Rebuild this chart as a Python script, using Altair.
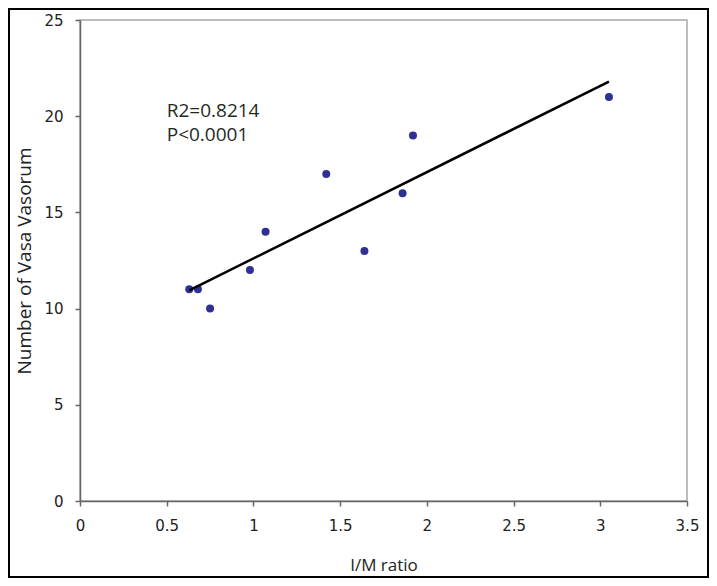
import altair as alt
import pandas as pd

im_ratio = [0.63, 0.68, 0.75, 0.98, 1.07, 1.42, 1.64, 1.86, 1.92, 3.05]
vasa = [11, 11, 10, 12, 14, 17, 13, 16, 19, 21]
x_ticks = [0, 0.5, 1, 1.5, 2, 2.5, 3, 3.5]
y_ticks = [0, 5, 10, 15, 20, 25]
ann_text = ["R2=0.8214", "P<0.0001"]
ann_x = [0.5, 0.5]
ann_y = [20.25, 19.0]

df = pd.DataFrame({"x": im_ratio, "y": vasa})
ann = pd.DataFrame({"t": ann_text, "x": ann_x, "y": ann_y})

W, H = 607, 481
xs = alt.Scale(domain=[0, 3.5], nice=False, zero=True)
ys = alt.Scale(domain=[0, 25], nice=False)

xaxis = alt.Axis(values=x_ticks, format="~g", grid=False, title="I/M ratio",
                 labelFont="DejaVu Sans", labelFontSize=15, labelColor="#222",
                 labelPadding=12, tickSize=5, tickColor="#666", domainColor="#666",
                 domainWidth=1.5, tickWidth=1.5, titleFont="Open Sans", titleFontSize=17,
                 titleFontWeight="normal", titleColor="#222", titleX=W / 2, titleY=64,
                 titleBaseline="middle", labelFlush=False)
yaxis = alt.Axis(values=y_ticks, format="~g", grid=False, title="Number of Vasa Vasorum",
                 labelFont="DejaVu Sans", labelFontSize=15, labelColor="#222",
                 labelPadding=12, tickSize=5, tickColor="#666", domainColor="#666",
                 domainWidth=1.5, tickWidth=1.5, titleFont="Open Sans", titleFontSize=19,
                 titleFontWeight="normal", titleColor="#222", titleX=-56, titleY=H / 2,
                 titleBaseline="middle", titleAlign="center", labelFlush=False)

base = alt.Chart(df)
pts = base.mark_circle(size=64, color="#2e3192", opacity=1).encode(
    x=alt.X("x:Q", scale=xs, axis=xaxis),
    y=alt.Y("y:Q", scale=ys, axis=yaxis),
)
line = base.transform_regression("x", "y").mark_line(color="black", strokeWidth=2.5).encode(
    x=alt.X("x:Q", scale=xs), y=alt.Y("y:Q", scale=ys)
)
text = alt.Chart(ann).mark_text(align="left", baseline="middle", font="Open Sans",
                                fontSize=19, color="#1f2a1f").encode(
    x=alt.X("x:Q", scale=xs), y=alt.Y("y:Q", scale=ys), text="t:N"
)
frame = alt.Chart(ann).mark_rect(fill=None, stroke="black", strokeWidth=2).encode(
    x=alt.value(-71), x2=alt.value(W + 21), y=alt.value(-11), y2=alt.value(H + 76)
)

chart = alt.layer(pts, line, text, frame).properties(
    width=W, height=H,
    autosize=alt.AutoSizeParams(type="none"),
    padding={"left": 72, "top": 12, "right": 22, "bottom": 77},
).configure_view(stroke="#a8a8a8", strokeWidth=1.5)

chart.save("out.html", embed_options={"renderer": "svg", "actions": False})
